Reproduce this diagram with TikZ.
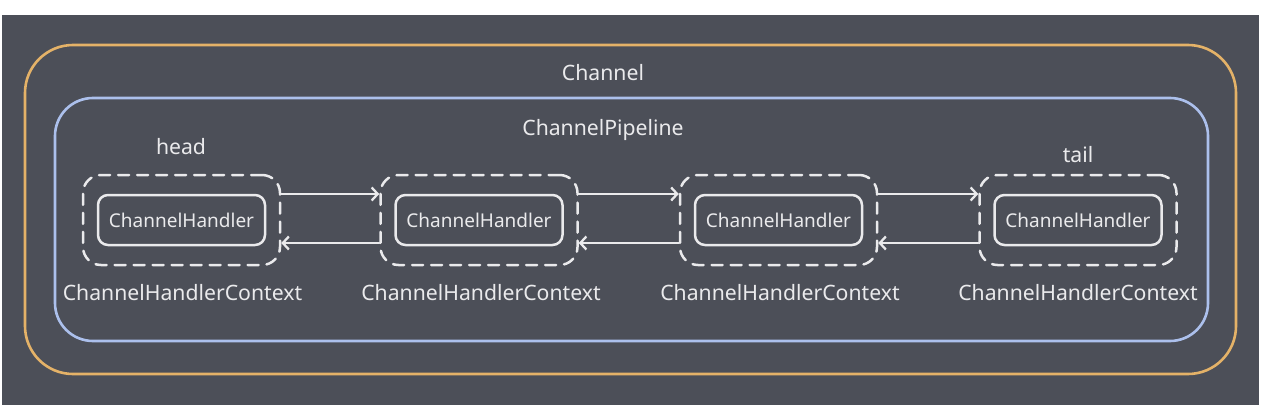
\documentclass[tikz,border=0pt]{standalone}
\usepackage{fontspec}
\setmainfont{Noto Sans}
\usetikzlibrary{arrows.meta}
\definecolor{bgdark}{RGB}{76,79,88}
\definecolor{chanorange}{RGB}{228,178,104}
\definecolor{pipeblue}{RGB}{172,192,236}
\definecolor{txtwhite}{RGB}{234,234,236}

\begin{document}
\begin{tikzpicture}[line cap=round,line join=round,>={Straight Barb[length=6pt,width=13pt]},x=1pt,y=-1pt,
  ctxbox/.style={draw=txtwhite,line width=2.5pt,dash pattern=on 11pt off 8pt,rounded corners=18pt,minimum width=197pt,minimum height=90pt,inner sep=0pt},
  handlerbox/.style={draw=txtwhite,line width=2.5pt,rounded corners=10pt,minimum width=167pt,minimum height=50pt,inner sep=0pt,text=txtwhite,font=\fontsize{19}{21}\selectfont},
  lbl/.style={text=txtwhite,font=\fontsize{21.2}{23}\selectfont,inner sep=0pt},
  link/.style={->,draw=txtwhite,line width=2.3pt}]
\useasboundingbox (0,0) rectangle (1268,412);
\fill[white] (0,0) rectangle (1268,412);
\fill[bgdark] (2,15) rectangle (1259,405);
%\draw the two containers
\draw [line width=2.6pt,color=chanorange,rounded corners=48pt] (25,45) rectangle (1236,374);
\draw [line width=2.6pt,color=pipeblue,rounded corners=38pt] (55,98) rectangle (1208,341);
\node[lbl] (chan) at (603,73) {Channel};
\node[lbl] (pipe) at (603,130) {ChannelPipeline};
% contexts
\node[ctxbox] (ctx1) at (181.5,220) {};
\node[ctxbox] (ctx2) at (479,220) {};
\node[ctxbox] (ctx3) at (778.5,220) {};
\node[ctxbox] (ctx4) at (1078,220) {};
\node[handlerbox] (hdl1) at (ctx1) {ChannelHandler};
\node[handlerbox] (hdl2) at (ctx2) {ChannelHandler};
\node[handlerbox] (hdl3) at (ctx3) {ChannelHandler};
\node[handlerbox] (hdl4) at (ctx4) {ChannelHandler};
\node[lbl] (ctxlbl1) at (182.5,293) {ChannelHandlerContext};
\node[lbl] (ctxlbl2) at (481,293) {ChannelHandlerContext};
\node[lbl] (ctxlbl3) at (780,293) {ChannelHandlerContext};
\node[lbl] (ctxlbl4) at (1078,293) {ChannelHandlerContext};
\node[lbl] (head) at (181,147) {head};
\node[lbl] (tail) at (1078,155) {tail};
% links
\draw [link] ([yshift=26pt]ctx1.east) -- ([yshift=26pt]ctx2.west);
\draw [link] ([yshift=-23pt]ctx2.west) -- ([yshift=-23pt]ctx1.east);
\draw [link] ([yshift=26pt]ctx2.east) -- ([yshift=26pt]ctx3.west);
\draw [link] ([yshift=-23pt]ctx3.west) -- ([yshift=-23pt]ctx2.east);
\draw [link] ([yshift=26pt]ctx3.east) -- ([yshift=26pt]ctx4.west);
\draw [link] ([yshift=-23pt]ctx4.west) -- ([yshift=-23pt]ctx3.east);
\end{tikzpicture}
\end{document}
